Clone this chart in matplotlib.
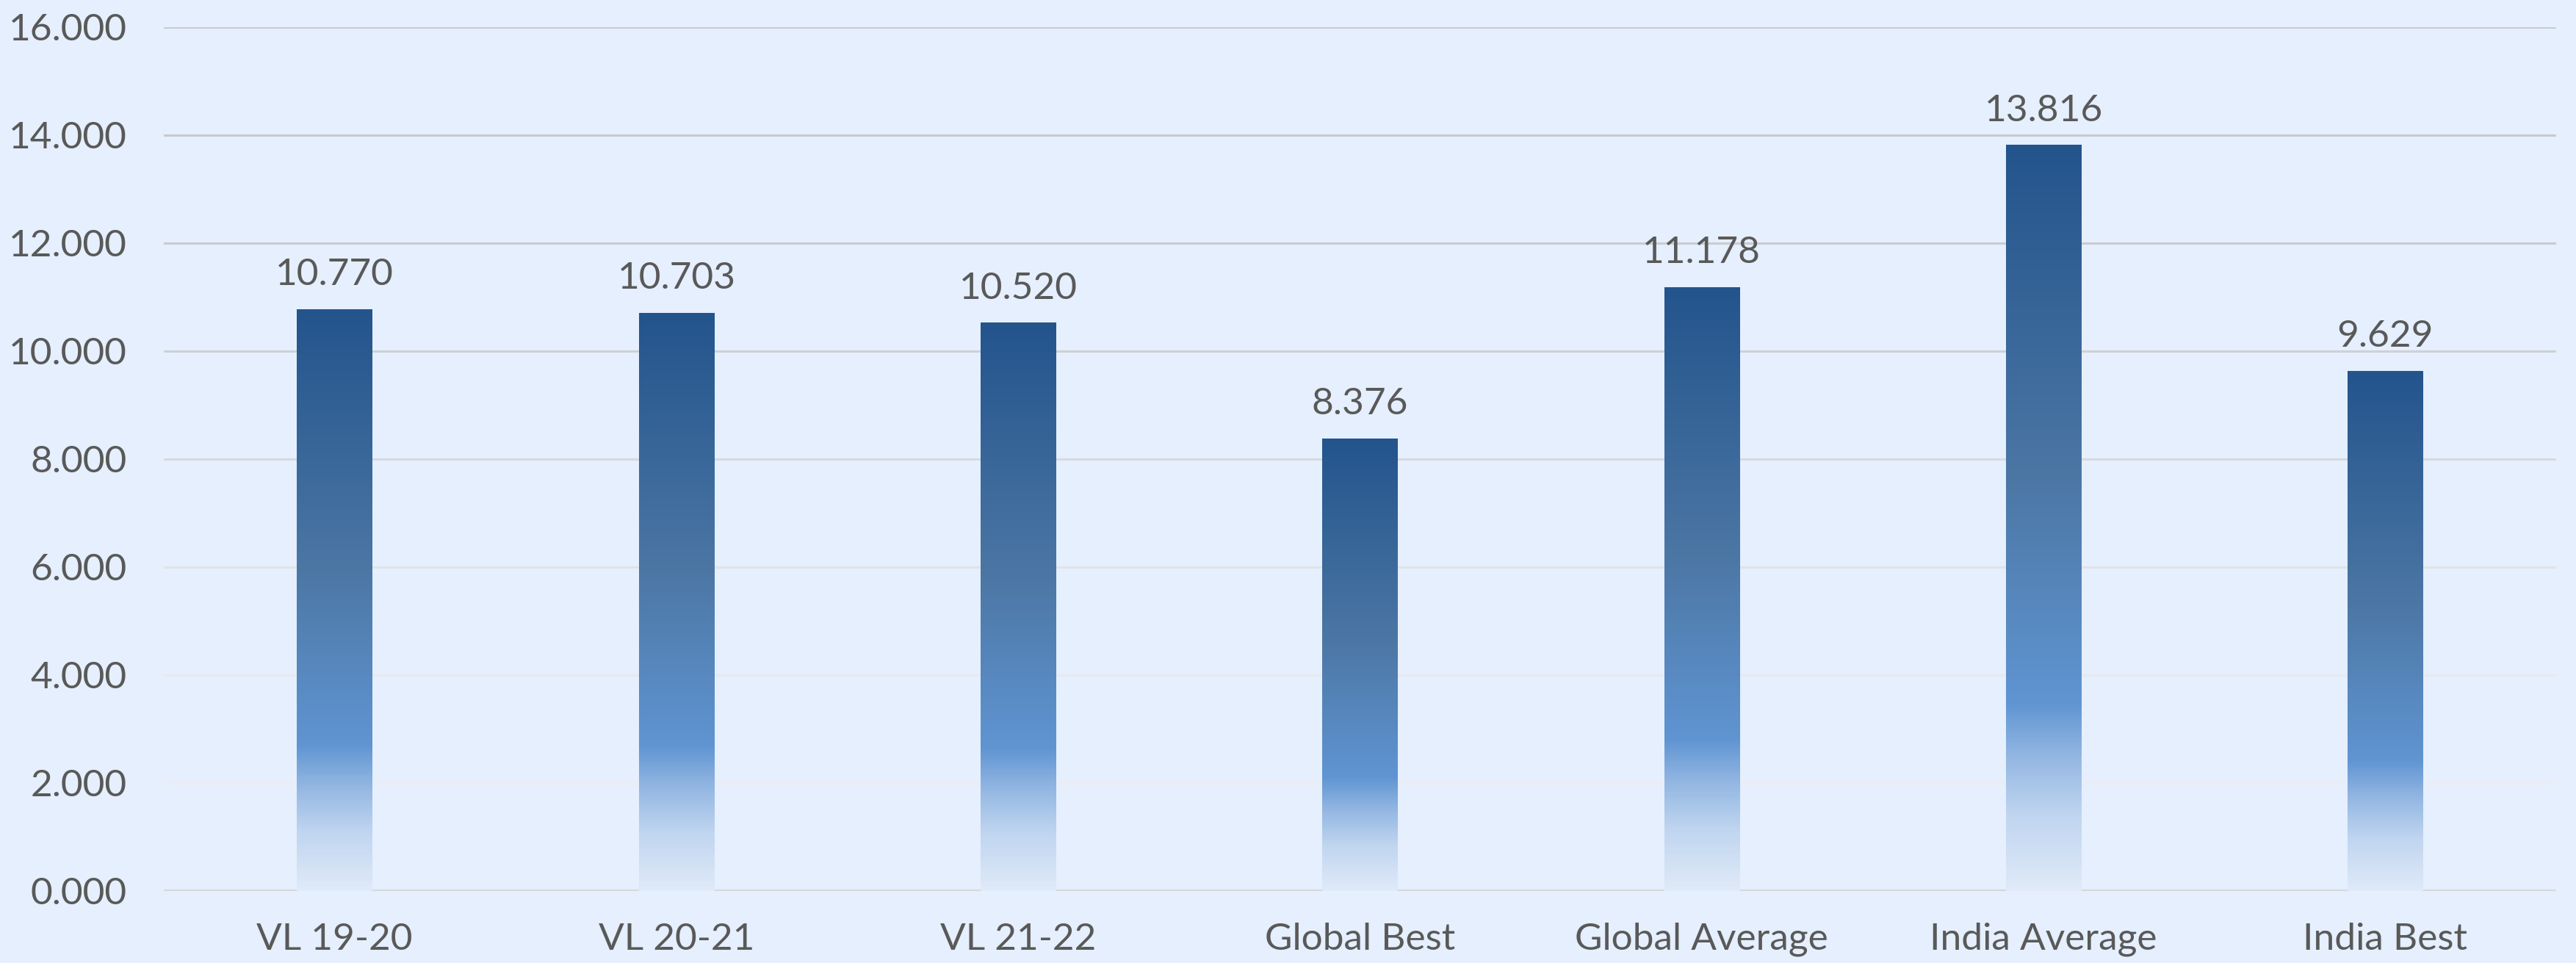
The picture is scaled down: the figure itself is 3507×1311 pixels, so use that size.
import numpy as np
import matplotlib.pyplot as plt
from matplotlib.colors import LinearSegmentedColormap

categorias = ['VL 19-20', 'VL 20-21', 'VL 21-22', 'Global Best',
              'Global Average', 'India Average', 'India Best']
valores = [10.770, 10.703, 10.520, 8.376, 11.178, 13.816, 9.629]
ticks_y = [0, 2, 4, 6, 8, 10, 12, 14, 16]

fondo = '#E5EFFD'
gris_texto = '#595959'
# color de cada linea de la cuadricula (de 0 a 16)
color_lineas = ['#D5D7DA', '#EBEDF0', '#E7E9EC', '#E1E3E6', '#D8DADD',
                '#CFD1D4', '#CACCCF', '#C8CACD', '#C8CACD']

plt.rcParams['font.family'] = ['Lato', 'DejaVu Sans']

fig = plt.figure(figsize=(35.07, 13.11), dpi=100, facecolor=fondo)
ax = fig.add_axes([223 / 3507, 1 - 1212.7 / 1311, (3480 - 223) / 3507, (1212.7 - 36.7) / 1311])
ax.set_facecolor(fondo)

# degradado vertical de las barras (abajo -> arriba)
cmap = LinearSegmentedColormap.from_list('barra', [
    (0.00, '#E0EAF8'),
    (0.10, '#C0D5F0'),
    (0.18, '#92B6E2'),
    (0.25, '#6095D2'),
    (0.55, '#4C77A5'),
    (1.00, '#23548C'),
])
grad = np.linspace(0, 1, 256).reshape(-1, 1)

x = np.arange(len(categorias))
barras = ax.bar(x, valores, width=0.22, color='none', zorder=3)
for b in barras:
    x0 = b.get_x()
    ax.imshow(grad, cmap=cmap, origin='lower', aspect='auto', zorder=2,
              extent=[x0, x0 + b.get_width(), 0, b.get_height()])

for y, c in zip(ticks_y, color_lineas):
    ax.axhline(y, color=c, lw=3.0 if y == 0 else 2.2, zorder=1)

for xi, v in zip(x, valores):
    ax.annotate(f'{v:.3f}', (xi, v), xytext=(0, 23.5), textcoords='offset points',
                ha='center', va='baseline', fontsize=37, color=gris_texto)

ax.set_xlim(-0.5, 6.5)
ax.set_ylim(0, 16)
ax.set_xticks(x)
ax.set_xticklabels(categorias)
ax.set_yticks(ticks_y)
ax.set_yticklabels([f'{t:.3f}' for t in ticks_y])
ax.tick_params(axis='both', length=0, labelsize=37, colors=gris_texto)
ax.tick_params(axis='y', pad=36)
ax.tick_params(axis='x', pad=31)
for s in ax.spines.values():
    s.set_visible(False)

fig.savefig('out.png', dpi=100, facecolor=fondo)
